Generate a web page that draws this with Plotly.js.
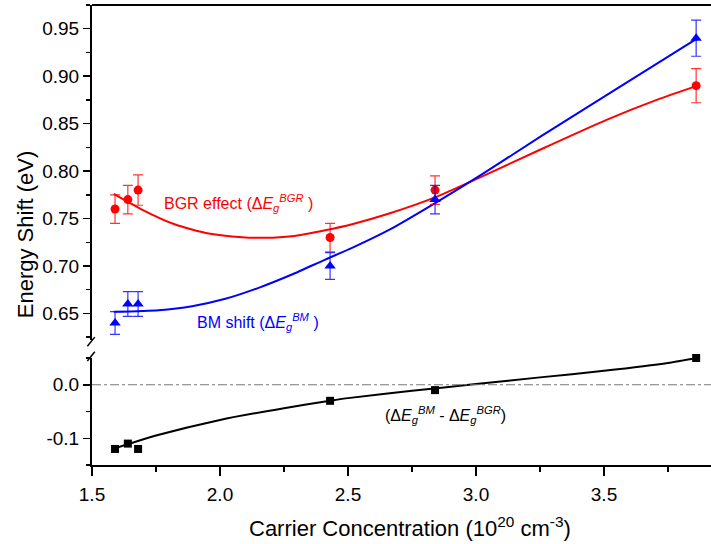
<!DOCTYPE html>
<html>
<head>
<meta charset="utf-8">
<script src="https://cdn.plot.ly/plotly-3.0.1.min.js"></script>
<style>html,body{margin:0;padding:0;background:#fff;}#chart{width:711px;height:544px;}</style>
</head>
<body>
<div id="chart"></div>
<script>
// ---- data ----
var carrier = [1.59, 1.64, 1.68, 2.43, 2.84, 3.86];
var bgr = [0.76, 0.77, 0.78, 0.73, 0.78, 0.89];
var bgrErr = [0.015, 0.015, 0.016, 0.015, 0.015, 0.018];
var bm = [0.64, 0.66, 0.66, 0.70, 0.77, 0.94];
var bmErr = [0.012, 0.013, 0.013, 0.014, 0.015, 0.019];
var diff = [-0.12, -0.11, -0.12, -0.03, -0.01, 0.05];

// fitted curves
var bgrFitX = [1.585, 1.695, 1.825, 1.956, 2.086, 2.177, 2.281, 2.411, 2.516, 2.664, 2.842, 3.029, 3.25, 3.51, 3.706, 3.866];
var bgrFitY = [0.776, 0.7595, 0.7437, 0.7342, 0.7303, 0.7297, 0.7314, 0.7377, 0.744, 0.7555, 0.7725, 0.795, 0.8225, 0.854, 0.875, 0.890];
var bmFitX = [1.585, 1.76, 1.891, 2.021, 2.151, 2.281, 2.411, 2.516, 2.664, 2.842, 3.029, 3.25, 3.51, 3.866];
var bmFitY = [0.6517, 0.6534, 0.6576, 0.6654, 0.677, 0.691, 0.7068, 0.7191, 0.7385, 0.7665, 0.7975, 0.836, 0.880, 0.940];
var diffFitX = [1.589, 1.75, 2.0, 2.25, 2.43, 2.5, 2.75, 3.0, 3.25, 3.5, 3.75, 3.86];
var diffFitY = [-0.119, -0.095, -0.0657, -0.0438, -0.030, -0.025, -0.0113, 0.0013, 0.0138, 0.026, 0.0407, 0.050];

// ticks
var xTickVals = [1.5, 2.0, 2.5, 3.0, 3.5];
var xTickText = ['1.5', '2.0', '2.5', '3.0', '3.5'];
var xMinorVals = [1.75, 2.25, 2.75, 3.25, 3.75];
var topTickVals = [0.65, 0.70, 0.75, 0.80, 0.85, 0.90, 0.95];
var topTickText = ['0.65', '0.70', '0.75', '0.80', '0.85', '0.90', '0.95'];
var topMinorVals = [0.625, 0.675, 0.725, 0.775, 0.825, 0.875, 0.925, 0.975];
var botTickVals = [-0.1, 0.0];
var botTickText = ['-0.1', '0.0'];
var botMinorVals = [-0.15, -0.05, 0.05];

var FONT = 'Arial, "Liberation Sans", Helvetica, sans-serif';
var RED = '#ff0000', BLUE = '#0000ff';

var traces = [
  {x: bgrFitX, y: bgrFitY, yaxis: 'y2', mode: 'lines', line: {color: RED, width: 2, shape: 'spline', smoothing: 0.6}, hoverinfo: 'skip'},
  {x: bmFitX, y: bmFitY, yaxis: 'y2', mode: 'lines', line: {color: BLUE, width: 2, shape: 'spline', smoothing: 0.6}, hoverinfo: 'skip'},
  {x: carrier, y: bgr, yaxis: 'y2', mode: 'markers', cliponaxis: false, marker: {color: RED, symbol: 'circle', size: 9},
   error_y: {type: 'data', array: bgrErr, visible: true, color: 'rgba(255,0,0,0.8)', thickness: 1.2, width: 5}},
  {x: carrier, y: bm, yaxis: 'y2', mode: 'markers', cliponaxis: false, marker: {color: BLUE, symbol: 'triangle-up', size: 10},
   error_y: {type: 'data', array: bmErr, visible: true, color: 'rgba(0,0,255,0.8)', thickness: 1.2, width: 5}},
  {x: diffFitX, y: diffFitY, yaxis: 'y', mode: 'lines', cliponaxis: false, line: {color: '#000', width: 2, shape: 'spline', smoothing: 0.6}, hoverinfo: 'skip'},
  {x: carrier, y: diff, yaxis: 'y', mode: 'markers', cliponaxis: false, marker: {color: '#000', symbol: 'square', size: 8}}
];

var axisCommon = {
  showgrid: false, zeroline: false, showline: true, linecolor: '#000', linewidth: 2,
  ticks: 'outside', tickcolor: '#000', tickwidth: 1.5,
  tickfont: {family: FONT, size: 19, color: '#000'}
};

var layout = {
  width: 711, height: 544,
  margin: {l: 92, r: 0, t: 5, b: 79},
  paper_bgcolor: '#fff', plot_bgcolor: '#fff',
  showlegend: false,
  font: {family: FONT, color: '#000'},
  xaxis: Object.assign({}, axisCommon, {
    range: [1.5, 3.918], anchor: 'y', tickmode: 'array', tickvals: xTickVals, ticktext: xTickText,
    ticklen: 9, ticklabelstandoff: 2,
    minor: {tickmode: 'array', tickvals: xMinorVals, ticks: 'outside', ticklen: 5, tickwidth: 1.5, tickcolor: '#000'}
  }),
  yaxis: Object.assign({}, axisCommon, {
    domain: [0, 0.2326], range: [-0.15, 0.05], anchor: 'x',
    tickmode: 'array', tickvals: botTickVals, ticktext: botTickText, ticklen: 7,
    minor: {tickmode: 'array', tickvals: botMinorVals, ticks: 'outside', ticklen: 4, tickwidth: 1.5, tickcolor: '#000'}
  }),
  yaxis2: Object.assign({}, axisCommon, {
    domain: [0.2717, 1], range: [0.622, 0.975], anchor: 'x',
    tickmode: 'array', tickvals: topTickVals, ticktext: topTickText, ticklen: 7,
    minor: {tickmode: 'array', tickvals: topMinorVals, ticks: 'outside', ticklen: 4, tickwidth: 1.5, tickcolor: '#000'}
  }),
  shapes: [
    // top frame line
    {type: 'line', xref: 'paper', yref: 'paper', x0: 0, x1: 1, y0: 1, y1: 1, line: {color: '#000', width: 2}},
    // zero reference line
    {type: 'line', xref: 'paper', yref: 'y', x0: 0, x1: 1, y0: 0, y1: 0, line: {color: '#777', width: 1, dash: 'dashdot'}},
    // axis break marks
    {type: 'line', xref: 'paper', yref: 'paper', x0: -0.0075, x1: 0.0045, y0: 0.258, y1: 0.278, line: {color: '#000', width: 1.5}},
    {type: 'line', xref: 'paper', yref: 'paper', x0: -0.0075, x1: 0.0045, y0: 0.226, y1: 0.246, line: {color: '#000', width: 1.5}}
  ],
  annotations: [
    {xref: 'paper', yref: 'paper', x: 0.514, y: -0.1348, xanchor: 'center', yanchor: 'middle', showarrow: false,
     text: 'Carrier Concentration (10<sup>20</sup> cm<sup>-3</sup>)', font: {family: FONT, size: 22, color: '#000'}},
    {xref: 'paper', yref: 'paper', x: -0.108, y: 0.502, xanchor: 'center', yanchor: 'middle', showarrow: false, textangle: -90,
     text: 'Energy Shift (eV)', font: {family: FONT, size: 22, color: '#000'}},
    {xref: 'x', yref: 'y2', x: 1.773, y: 0.7668, xanchor: 'left', yanchor: 'middle', showarrow: false,
     text: 'BGR effect (Δ<i>E</i><sub><i>g</i></sub><sup><i>BGR</i></sup> )', font: {family: FONT, size: 16, color: RED}},
    {xref: 'x', yref: 'y2', x: 1.903, y: 0.6412, xanchor: 'left', yanchor: 'middle', showarrow: false,
     text: 'BM shift (Δ<i>E</i><sub><i>g</i></sub><sup><i>BM</i></sup> )', font: {family: FONT, size: 16, color: BLUE}},
    {xref: 'x', yref: 'y', x: 2.637, y: -0.057, xanchor: 'left', yanchor: 'middle', showarrow: false,
     text: '(Δ<i>E</i><sub><i>g</i></sub><sup><i>BM</i></sup> - Δ<i>E</i><sub><i>g</i></sub><sup><i>BGR</i></sup>)', font: {family: FONT, size: 16, color: '#000'}}
  ]
};

Plotly.newPlot('chart', traces, layout, {displayModeBar: false, staticPlot: true});
</script>
</body>
</html>
